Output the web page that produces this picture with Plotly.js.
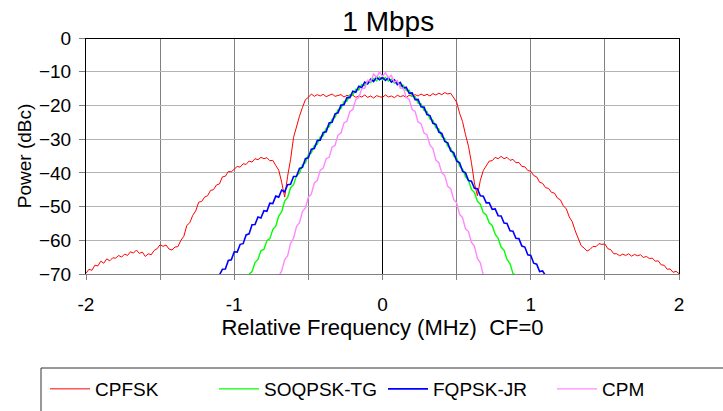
<!DOCTYPE html>
<html>
<head>
<meta charset="utf-8">
<script src="https://cdn.plot.ly/plotly-3.0.1.min.js"></script>
<style>
  html, body { margin: 0; padding: 0; background: #ffffff; }
  #chart { width: 723px; height: 411px; }
</style>
</head>
<body>
<div id="chart"></div>
<script>
// Spectra sampled every 0.02 MHz, power in dBc.
const STEP = 0.02;

// CPFSK: -2.00 .. 2.00 MHz
const cpfskStart = -2.0;
const cpfsk = [
  -69.8, -68.6, -68.9, -67.4, -67.6, -66.2, -66.8, -65.5, -66.1, -65.2,
  -65.3, -64.5, -65.0, -64.1, -64.5, -63.4, -63.8, -62.9, -63.9, -63.5,
  -64.8, -64.0, -64.3, -63.0, -62.5, -61.3, -61.8, -61.4, -62.6, -62.9,
  -62.0, -61.9, -60.0, -58.8, -55.6, -54.8, -52.6, -51.3, -48.7, -48.5,
  -47.2, -46.8, -45.2, -45.0, -43.6, -43.3, -41.2, -41.0, -39.6, -39.7,
  -38.9, -38.1, -38.3, -37.3, -37.5, -36.5, -36.8, -35.8, -36.1, -35.4,
  -35.8, -35.5, -36.4, -36.3, -37.8, -39.2, -42.8, -47.2, -41.0, -36.0,
  -29.5, -26.2, -23.2, -20.6, -18.3, -17.6, -16.6, -17.3, -16.8, -17.2,
  -16.7, -17.4, -17.0, -16.6, -17.3, -17.1, -16.8, -17.5, -17.0, -17.3,
  -17.0, -17.6, -17.2, -17.5, -16.9, -17.6, -17.2, -17.8, -17.1, -17.4,
  -17.6, -16.9, -17.5, -17.2, -17.7, -17.0, -17.4, -17.1, -17.6, -17.0,
  -17.3, -16.8, -17.2, -16.6, -17.1, -16.7, -17.2, -16.5, -16.9, -16.4,
  -16.8, -16.2, -16.6, -16.4, -17.6, -19.0, -22.3, -24.8, -28.7, -32.1,
  -37.0, -43.0, -46.8, -42.2, -39.3, -37.8, -36.5, -36.4, -35.4, -35.8,
  -35.1, -35.8, -35.4, -36.3, -36.0, -37.0, -36.9, -38.1, -38.2, -39.3,
  -39.5, -40.8, -41.2, -42.8, -43.1, -44.4, -44.6, -45.8, -46.0, -47.5,
  -48.0, -49.8, -50.7, -53.1, -54.5, -57.2, -59.3, -61.6, -62.3, -63.2,
  -62.7, -61.8, -61.9, -61.0, -61.2, -61.1, -62.5, -62.8, -64.0, -64.0,
  -64.6, -64.1, -64.5, -64.0, -64.7, -64.2, -64.6, -64.3, -65.1, -64.8,
  -65.4, -65.3, -66.2, -66.1, -67.3, -67.4, -68.6, -68.5, -69.5, -69.2,
  -69.9
];

// SOQPSK-TG: -0.90 .. 0.90 MHz
const soqpskStart = -0.9;
const soqpsk = [
  -70.0, -69.3, -66.6, -65.7, -63.1, -62.7, -60.1, -59.5, -56.8, -55.8,
  -52.8, -51.5, -48.4, -47.3, -44.4, -43.5, -40.8, -40.1, -37.6, -37.0,
  -34.6, -34.1, -31.9, -31.5, -29.4, -29.0, -26.8, -26.3, -24.1, -23.5,
  -21.3, -20.9, -18.9, -18.7, -16.8, -16.9, -15.2, -15.4, -13.8, -14.1,
  -12.7, -13.2, -12.0, -12.7, -11.6,
  -12.4,
  -11.7, -12.8, -12.2, -13.4, -12.9, -14.3, -14.0, -15.6, -15.5, -17.3,
  -17.4, -19.3, -19.5, -21.5, -21.8, -24.0, -24.4, -26.6, -27.0, -29.3,
  -29.8, -32.1, -32.6, -35.0, -35.6,
  -38.0, -38.8, -41.2, -42.2, -44.9, -45.8, -48.4, -49.3, -51.8, -52.5,
  -54.8, -55.6, -58.2, -59.4, -62.0, -63.0, -65.7, -66.9, -69.8, -70.6
];

// FQPSK-JR: -1.10 .. 1.10 MHz
const fqpskStart = -1.1;
const fqpsk = [
  -70.3, -68.6, -68.5, -66.0, -65.8, -63.4, -63.5, -61.2, -61.0, -58.4,
  -58.1, -55.4, -55.3, -53.1, -53.4, -51.2, -51.4, -49.0, -49.1, -46.9,
  -47.2, -45.1, -45.6, -43.5, -43.4, -41.1, -41.0, -38.7, -38.4, -35.8,
  -35.5, -33.0, -32.8, -30.4, -30.3, -28.0, -27.8, -25.2, -25.0, -22.5,
  -22.2, -19.9, -19.8, -17.7, -17.7, -15.8, -16.1, -14.3, -14.7, -13.1,
  -13.6, -12.2, -12.9, -11.6, -12.4,
  -11.7,
  -12.6, -11.8, -13.1, -12.4, -13.8, -13.2, -14.9, -14.6, -16.4, -16.3,
  -18.3, -18.2, -20.4, -20.5, -22.7, -23.0, -25.3, -25.6, -27.9, -28.3,
  -30.7, -31.1, -33.5, -34.0, -36.5, -37.0, -39.5, -40.0, -42.3, -42.5,
  -44.6, -44.7, -46.8, -46.9, -48.9, -48.9, -50.8, -50.7, -52.7, -52.8,
  -54.9, -55.0, -57.2, -57.3, -59.4, -59.5, -61.7, -62.0, -64.3, -64.5,
  -66.8, -67.1, -69.3, -69.1, -70.5
];

// CPM: -0.70 .. 0.70 MHz
const cpmStart = -0.7;
const cpm = [
  -70.6, -69.1, -65.8, -64.6, -60.9, -59.4, -55.9, -54.8, -51.5, -50.4,
  -47.2, -46.3, -43.0, -42.3, -39.2, -38.6, -35.8, -35.4, -32.4, -31.8,
  -28.8, -28.2, -25.2, -24.7, -21.8, -21.2, -18.2, -17.7, -15.0, -14.9,
  -12.5, -12.9, -10.7, -11.7, -10.1,
  -11.3,
  -10.3, -11.9, -11.1, -13.1, -12.6, -14.9, -14.8, -17.6, -18.2, -21.2,
  -21.8, -24.9, -25.4, -28.2, -28.7, -31.8, -32.8, -36.2, -37.0, -40.0,
  -40.8, -44.0, -44.7, -47.9, -48.9, -52.3, -53.3, -56.6, -57.4, -60.6,
  -61.7, -65.4, -66.7, -70.4, -71.5
];

const seriesNames = ['CPFSK', 'SOQPSK-TG', 'FQPSK-JR', 'CPM'];
const seriesColors = ['#ff0000', '#00ff00', '#0000ff', '#ff88ff'];
const seriesWidths = [1, 1.4, 1.6, 1.4];

const xTickVals = [-2, -1.5, -1, -0.5, 0, 0.5, 1, 1.5, 2];
const xTickText = ['-2', '', '-1', '', '0', '', '1', '', '2'];
const yTickVals = [0, -10, -20, -30, -40, -50, -60, -70];

const FONT = 'Liberation Sans, Arial, sans-serif';

function spectrum(k, start, values) {
  return {
    type: 'scatter',
    mode: 'lines',
    name: seriesNames[k],
    x0: start,
    dx: STEP,
    y: values,
    line: { color: seriesColors[k], width: seriesWidths[k] },
    hoverinfo: 'skip'
  };
}

const data = [
  spectrum(0, cpfskStart, cpfsk),
  spectrum(1, soqpskStart, soqpsk),
  spectrum(2, fqpskStart, fqpsk),
  spectrum(3, cpmStart, cpm)
];

// Plot area: 86..679 px across, 38..274 px down
const L = 86, R = 679, T = 38, B = 274, W = 723, H = 411;
const px = v => (v - L) / (R - L);
const py = v => (B - v) / (B - T);

const layout = {
  width: W,
  height: H,
  margin: { l: L, r: W - R, t: T, b: H - B, pad: 0, autoexpand: false },
  paper_bgcolor: '#ffffff',
  plot_bgcolor: '#ffffff',
  font: { family: FONT, color: '#000000', size: 19 },
  title: {
    text: '1 Mbps',
    font: { family: FONT, size: 28, color: '#000000' },
    x: 0.537, xanchor: 'center',
    y: 1 - 21 / H, yanchor: 'middle'
  },
  showlegend: true,
  legend: {
    orientation: 'h',
    xref: 'paper', yref: 'paper',
    x: px(45), xanchor: 'left',
    y: py(389), yanchor: 'middle',
    bgcolor: 'rgba(0,0,0,0)',
    borderwidth: 0,
    font: { family: FONT, size: 19, color: '#000000' },
    entrywidth: 114, entrywidthmode: 'pixels',
    itemwidth: 40,
    traceorder: 'normal'
  },
  xaxis: {
    range: [-2, 2],
    tickmode: 'array',
    tickvals: xTickVals,
    ticktext: xTickText,
    ticks: 'outside', ticklen: 5, tickcolor: '#808080', tickwidth: 1,
    ticklabelstandoff: 8,
    showgrid: true, gridcolor: '#808080', gridwidth: 1,
    zeroline: true, zerolinecolor: '#000000', zerolinewidth: 1,
    showline: true, linecolor: '#808080', linewidth: 1,
    tickfont: { family: FONT, size: 19, color: '#000000' },
    title: {
      text: 'Relative Frequency (MHz)\u00a0\u00a0CF=0',
      font: { family: FONT, size: 22, color: '#000000' },
      standoff: 3
    },
    fixedrange: true
  },
  yaxis: {
    range: [-70, 0],
    tickmode: 'array',
    tickvals: yTickVals,
    ticks: 'outside', ticklen: 6, tickcolor: '#808080', tickwidth: 1,
    ticklabelstandoff: 4,
    showgrid: true, gridcolor: '#b4b4b4', gridwidth: 1,
    zeroline: true, zerolinecolor: '#000000', zerolinewidth: 1,
    showline: true, linecolor: '#000000', linewidth: 1, mirror: true,
    tickfont: { family: FONT, size: 19, color: '#000000' },
    title: {
      text: 'Power (dBc)',
      font: { family: FONT, size: 19, color: '#000000' },
      standoff: 2
    },
    fixedrange: true
  },
  shapes: [
    {
      type: 'rect', xref: 'paper', yref: 'paper',
      x0: px(41), x1: px(740), y0: py(368), y1: py(430),
      line: { color: '#333333', width: 1 },
      fillcolor: 'rgba(0,0,0,0)',
      layer: 'below'
    }
  ]
};

Plotly.newPlot('chart', data, layout, { displayModeBar: false, staticPlot: true });
</script>
</body>
</html>
